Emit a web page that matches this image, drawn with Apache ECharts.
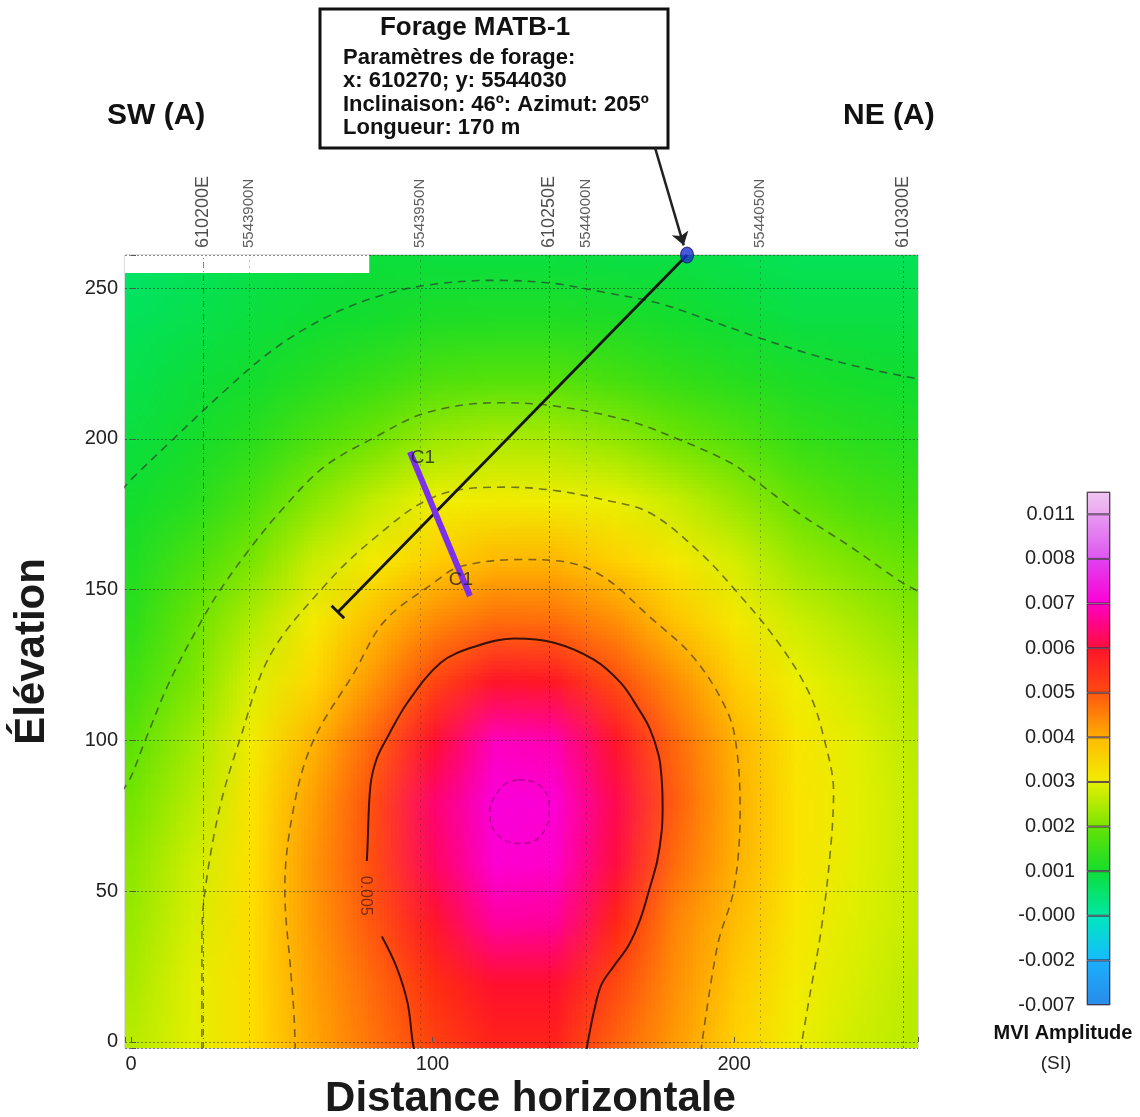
<!DOCTYPE html>
<html>
<head>
<meta charset="utf-8">
<title>Forage MATB-1 - MVI Amplitude</title>
<script src="https://cdn.jsdelivr.net/npm/echarts@6/dist/echarts.min.js"></script>
<style>
  html, body { margin: 0; padding: 0; background: #fff; }
  #chart { width: 1140px; height: 1117px; }
</style>
</head>
<body>
<div id="chart"></div>
<script>
  var FONT = '"Liberation Sans", Arial, Helvetica, sans-serif';

  // noeuds de la grille (m)
  var gridX = [0, 20, 40, 60, 80, 100, 120, 140, 160, 180, 200, 220, 240, 260];
  var gridY = [260, 240, 220, 200, 180, 160, 140, 120, 100, 80, 60, 40, 20, 0];

  // amplitude MVI (SI), une ligne par elevation (du haut vers le bas)
  var mviRows = [
    [0.00040, 0.00055, 0.00070, 0.00080, 0.00088, 0.00085, 0.00085, 0.00085, 0.00080, 0.00080, 0.00070, 0.00060, 0.00060, 0.00060],
    [0.00055, 0.00070, 0.00085, 0.00098, 0.00107, 0.00122, 0.00125, 0.00125, 0.00120, 0.00107, 0.00092, 0.00080, 0.00080, 0.00080],
    [0.00070, 0.00090, 0.00106, 0.00135, 0.00157, 0.00174, 0.00180, 0.00180, 0.00168, 0.00154, 0.00136, 0.00117, 0.00108, 0.00100],
    [0.00085, 0.00108, 0.00140, 0.00174, 0.00200, 0.00232, 0.00243, 0.00240, 0.00225, 0.00200, 0.00180, 0.00155, 0.00140, 0.00130],
    [0.00104, 0.00135, 0.00174, 0.00218, 0.00260, 0.00302, 0.00316, 0.00310, 0.00296, 0.00265, 0.00227, 0.00192, 0.00170, 0.00160],
    [0.00125, 0.00170, 0.00208, 0.00267, 0.00320, 0.00370, 0.00396, 0.00398, 0.00368, 0.00326, 0.00276, 0.00230, 0.00207, 0.00190],
    [0.00145, 0.00195, 0.00246, 0.00320, 0.00390, 0.00440, 0.00472, 0.00470, 0.00437, 0.00382, 0.00324, 0.00269, 0.00240, 0.00215],
    [0.00165, 0.00210, 0.00283, 0.00360, 0.00430, 0.00515, 0.00590, 0.00585, 0.00505, 0.00437, 0.00370, 0.00303, 0.00270, 0.00240],
    [0.00185, 0.00235, 0.00316, 0.00400, 0.00480, 0.00600, 0.00690, 0.00680, 0.00590, 0.00474, 0.00400, 0.00333, 0.00290, 0.00250],
    [0.00205, 0.00250, 0.00340, 0.00420, 0.00505, 0.00640, 0.00715, 0.00705, 0.00620, 0.00485, 0.00405, 0.00342, 0.00292, 0.00260],
    [0.00220, 0.00270, 0.00350, 0.00430, 0.00505, 0.00630, 0.00705, 0.00695, 0.00610, 0.00470, 0.00402, 0.00340, 0.00290, 0.00260],
    [0.00230, 0.00280, 0.00355, 0.00427, 0.00495, 0.00590, 0.00670, 0.00665, 0.00560, 0.00444, 0.00390, 0.00328, 0.00285, 0.00260],
    [0.00240, 0.00290, 0.00355, 0.00420, 0.00475, 0.00545, 0.00600, 0.00600, 0.00510, 0.00435, 0.00376, 0.00317, 0.00280, 0.00250],
    [0.00250, 0.00290, 0.00355, 0.00414, 0.00465, 0.00520, 0.00565, 0.00565, 0.00480, 0.00424, 0.00367, 0.00306, 0.00270, 0.00250]
  ];

  // bornes de la table de couleurs (SI), de bas en haut
  var colorBreaks = [-0.007, -0.002, -0.0002, 0.001, 0.002, 0.003, 0.004, 0.005, 0.006, 0.007, 0.008, 0.011];
  var colorTop = 0.013;
  var cmapStops = [
    [0, '#2a88e8'], [0.5, '#2398f4'], [1, '#18b4ff'], [1.5, '#05e0ff'],
    [2, '#00e8b0'], [2.5, '#00e468'], [3, '#10dd30'], [3.5, '#30de18'],
    [4, '#70e400'], [4.5, '#b8ec00'], [5, '#eef000'], [5.5, '#ffe000'],
    [6, '#ffb400'], [6.5, '#ff8008'], [7, '#ff5010'], [7.5, '#ff2a10'],
    [8, '#ff1030'], [8.5, '#ff0080'], [9, '#ff00d0'], [9.5, '#ec00f0'],
    [10, '#dc50f0'], [11, '#e8a0f0'], [11.5, '#f2ccf2']
  ];

  // contours (distance, elevation)
  var contour001 = [[-3, 183], [0, 186.5], [13, 199], [30, 215], [47, 229.5], [64, 240], [81, 247], [98, 251], [121, 252.6], [140, 251.6], [156.5, 248.7], [175, 245], [190, 240], [207, 234], [224, 228.5], [241, 224], [262, 219.7]];
  var contour002 = [[-3, 83], [0, 88], [4.7, 100], [13, 120], [23, 139], [29.6, 150], [40.5, 165], [50, 176.5], [64, 190.7], [81, 200.6], [97.7, 208.6], [121, 212], [140, 211], [165, 206], [182, 199.7], [199, 192], [206, 187], [222, 175], [239, 164], [255.5, 152.5], [262, 149]];
  var contour003 = [[23.5, -3], [23.5, 10], [23.5, 34], [24.6, 50.6], [29.5, 78], [36, 100], [46, 128], [63, 150], [80, 166.5], [101, 181], [124.6, 184], [139.7, 183], [156, 180], [172, 175.5], [189, 162], [202, 148], [215, 132], [225, 115.5], [230, 100], [233, 83], [232, 64], [229, 38], [224.5, 12], [222, -3]];
  var contour004 = [[54.5, -3], [54, 10], [53, 23], [51, 50.6], [54, 78], [60.5, 100], [74, 122.5], [84, 139.5], [100, 152], [109, 157.6], [129, 160], [142, 159.5], [156, 154.7], [172, 141], [187, 127], [198, 109], [201, 96], [202, 77], [200, 51], [194.5, 32], [189, -3]];
  var contour005Low = [[94, -3], [93.4, 0], [91.7, 13], [88, 25], [83.2, 35]];
  var contour005 = [[78.2, 60], [78.4, 64], [79.4, 85], [81.5, 94], [85, 101], [91.7, 112.6], [102.7, 125.8], [113.6, 131], [127, 133.8], [140, 132.5], [153.5, 126.8], [162.5, 119], [168, 111], [172, 104], [175, 95], [176, 87], [176.3, 78], [176, 70], [174.5, 60], [172, 51], [169, 41], [165, 32], [160, 25], [156, 19], [153.5, 10], [151.5, 0], [151, -3]];
  var contourCore = [[128.5, 87], [134, 86], [138, 82], [138.7, 76], [137, 70], [133, 66.3], [128, 65.8], [123, 67.5], [119.5, 72], [119, 77], [121, 82], [124, 85.5], [128.5, 87]];

  // forage
  var drillCollar = [184.4, 261];
  var drillEnd = [68.7, 142.7];
  var drillEndBar = [[66.5, 144.7], [70.7, 140.5]];
  var zoneC1 = [[92.5, 195.7], [112.4, 147.9]];
  var calloutArrow = [[173.8, 296.5], [183.3, 264.2]];
  var noDataArea = [[-2, 255], [79, 261]];

  // reperes UTM en haut de la coupe
  var eastingLines = [{ name: '610200E', x: 23.9 }, { name: '610250E', x: 138.6 }, { name: '610300E', x: 256.0 }];
  var northingLines = [{ name: '5543900N', x: 39.1 }, { name: '5543950N', x: 95.8 }, { name: '5544000N', x: 150.9 }, { name: '5544050N', x: 208.6 }];

  var xTickLabels = [0, 100, 200];
  var yTickLabels = [0, 50, 100, 150, 200, 250];
  var drillInfo = ['Paramètres de forage:', 'x: 610270; y: 5544030', 'Inclinaison: 46º: Azimut: 205º', 'Longueur: 170 m'];

  function hexRgb(h) {
    return [parseInt(h.substr(1, 2), 16), parseInt(h.substr(3, 2), 16), parseInt(h.substr(5, 2), 16)];
  }
  function levelOf(v) {
    if (v <= colorBreaks[0]) return 0;
    for (var i = 0; i < colorBreaks.length - 1; i++) {
      if (v <= colorBreaks[i + 1]) return i + (v - colorBreaks[i]) / (colorBreaks[i + 1] - colorBreaks[i]);
    }
    return Math.min(11.5, 11 + 0.5 * (v - 0.011) / (colorTop - 0.011));
  }
  function rgbAt(level) {
    for (var i = 0; i < cmapStops.length - 1; i++) {
      var a = cmapStops[i], b = cmapStops[i + 1];
      if (level <= b[0]) {
        var t = Math.max(0, (level - a[0]) / (b[0] - a[0]));
        var ca = hexRgb(a[1]), cb = hexRgb(b[1]);
        return [0, 1, 2].map(function (k) { return Math.round(ca[k] + (cb[k] - ca[k]) * t); });
      }
    }
    return hexRgb(cmapStops[cmapStops.length - 1][1]);
  }
  function cssAt(level) {
    var c = rgbAt(level);
    return 'rgb(' + c[0] + ',' + c[1] + ',' + c[2] + ')';
  }

  // petite image (un pixel par noeud), lissee par le navigateur a l'affichage
  var fieldCanvas = document.createElement('canvas');
  fieldCanvas.width = gridX.length;
  fieldCanvas.height = gridY.length;
  var fctx = fieldCanvas.getContext('2d');
  var img = fctx.createImageData(gridX.length, gridY.length);
  for (var r = 0; r < gridY.length; r++) {
    for (var c = 0; c < gridX.length; c++) {
      var rgb = rgbAt(levelOf(mviRows[r][c]));
      var p = (r * gridX.length + c) * 4;
      img.data[p] = rgb[0]; img.data[p + 1] = rgb[1]; img.data[p + 2] = rgb[2]; img.data[p + 3] = 255;
    }
  }
  fctx.putImageData(img, 0, 0);
  var halfX = (gridX[1] - gridX[0]) / 2;
  var halfY = (gridY[0] - gridY[1]) / 2;

  var dashed = { color: 'rgba(40,40,40,0.6)', width: 1.6, type: [8, 6] };
  function contourSeries(name, data, style) {
    return {
      name: name, type: 'line', data: data, smooth: 0.35, symbol: 'none', silent: true,
      z: 3, lineStyle: style, clip: true
    };
  }

  // barre de couleurs : une tranche par intervalle
  var colorbarSeries = colorBreaks.map(function (b, i) {
    var h = i < colorBreaks.length - 1 ? 1 : 0.5;
    return {
      type: 'bar', xAxisIndex: 1, yAxisIndex: 1, stack: 'cb', data: [h],
      barWidth: '100%', silent: true,
      itemStyle: {
        borderColor: 'rgba(50,20,50,0.75)', borderWidth: 1,
        color: {
          type: 'linear', x: 0, y: 0, x2: 0, y2: 1,
          colorStops: [{ offset: 0, color: cssAt(i + h - 0.08) }, { offset: 1, color: cssAt(i + 0.08) }]
        }
      }
    };
  });

  var refMarkLines = eastingLines.map(function (e, i) {
    return { xAxis: e.x, lineStyle: { color: 'rgba(30,30,30,0.55)', width: 1, type: i === 0 ? [6, 3, 1, 3] : [2, 3] } };
  }).concat(northingLines.map(function (n) {
    return { xAxis: n.x, lineStyle: { color: 'rgba(30,30,30,0.3)', width: 1, type: [2, 4] } };
  }));

  var topLabels = eastingLines.map(function (e) {
    return { value: [e.x, 261], name: e.name, label: { fontSize: 18 } };
  }).concat(northingLines.map(function (n) {
    return { value: [n.x, 261], name: n.name, label: { fontSize: 15, color: '#333' } };
  }));

  var chart = echarts.init(document.getElementById('chart'));
  chart.setOption({
    animation: false,
    backgroundColor: '#fff',
    textStyle: { fontFamily: FONT },
    grid: [
      { left: 125, top: 255, width: 793, height: 793, show: true, borderColor: '#bbb', borderWidth: 1, outerBoundsMode: 'none' },
      { left: 1087, top: 492, width: 23, height: 513, show: true, borderColor: '#777', borderWidth: 1, outerBoundsMode: 'none' }
    ],
    xAxis: [
      {
        type: 'value', min: -2, max: 261, splitNumber: 3, z: 2,
        name: 'Distance horizontale', nameLocation: 'middle', nameGap: 24,
        nameTextStyle: { fontSize: 42, fontWeight: 'bold', color: '#1a1a1a', padding: [0, 0, 0, 18] },
        axisLine: { show: false },
        axisTick: { inside: true, length: 5, lineStyle: { color: '#555' } },
        axisLabel: {
          fontSize: 20, color: '#222', margin: 6,
          formatter: function (v) { return xTickLabels.indexOf(v) >= 0 ? String(v) : ''; }
        },
        splitLine: { show: false }
      },
      { type: 'category', gridIndex: 1, data: [''], show: false }
    ],
    yAxis: [
      {
        type: 'value', min: -2, max: 261, splitNumber: 5, z: 2,
        name: 'Élévation', nameLocation: 'middle', nameRotate: 90, nameGap: 72,
        nameTextStyle: { fontSize: 42, fontWeight: 'bold', color: '#1a1a1a' },
        axisLine: { show: false },
        axisTick: { inside: true, length: 5, lineStyle: { color: '#555' } },
        axisLabel: {
          fontSize: 20, color: '#222', margin: 7,
          formatter: function (v) { return yTickLabels.indexOf(v) >= 0 ? String(v) : ''; }
        },
        splitLine: { show: true, lineStyle: { color: 'rgba(30,30,30,0.5)', width: 1, type: [2, 2] } }
      },
      {
        type: 'value', gridIndex: 1, min: 0, max: 11.5, interval: 1,
        axisLine: { show: false }, axisTick: { show: false }, splitLine: { show: false },
        axisLabel: {
          fontSize: 20, color: '#222', margin: 12,
          formatter: function (v) { return (v % 1 === 0 && v < colorBreaks.length) ? colorBreaks[v].toFixed(3) : ''; }
        }
      }
    ],
    graphic: [
      { type: 'text', x: 107, y: 116, style: { text: 'SW (A)', font: 'bold 30px ' + FONT, fill: '#111', align: 'left', verticalAlign: 'middle' } },
      { type: 'text', x: 843, y: 116, style: { text: 'NE (A)', font: 'bold 30px ' + FONT, fill: '#111', align: 'left', verticalAlign: 'middle' } },
      {
        type: 'group', x: 320, y: 9,
        children: [
          { type: 'rect', shape: { x: 0, y: 0, width: 348, height: 139 }, style: { fill: '#fff', stroke: '#111', lineWidth: 3 } },
          { type: 'text', x: 155, y: 19, style: { text: 'Forage MATB-1', font: 'bold 26px ' + FONT, fill: '#111', align: 'center', verticalAlign: 'middle' } }
        ].concat(drillInfo.map(function (t, i) {
          return { type: 'text', x: 23, y: 48.5 + i * 23.6, style: { text: t, font: 'bold 22px ' + FONT, fill: '#111', align: 'left', verticalAlign: 'middle' } };
        }))
      },
      { type: 'text', x: 1063, y: 1033, style: { text: 'MVI Amplitude', font: 'bold 20px ' + FONT, fill: '#111', align: 'center', verticalAlign: 'middle' } },
      { type: 'text', x: 1056, y: 1064, style: { text: '(SI)', font: '19px ' + FONT, fill: '#222', align: 'center', verticalAlign: 'middle' } }
    ],
    series: [
      {
        name: 'MVI', type: 'custom', z: 1, clip: true, silent: true,
        data: [[gridX[0] - halfX, gridY[gridY.length - 1] - halfY, gridX[gridX.length - 1] + halfX, gridY[0] + halfY]],
        encode: { x: [0, 2], y: [1, 3] },
        renderItem: function (params, api) {
          var tl = api.coord([api.value(0), api.value(3)]);
          var br = api.coord([api.value(2), api.value(1)]);
          return {
            type: 'image',
            style: { image: fieldCanvas, x: tl[0], y: tl[1], width: br[0] - tl[0], height: br[1] - tl[1] }
          };
        }
      },
      contourSeries('0.001', contour001, dashed),
      contourSeries('0.002', contour002, dashed),
      contourSeries('0.003', contour003, dashed),
      contourSeries('0.004', contour004, dashed),
      contourSeries('0.005', contour005, { color: '#3a1208', width: 2 }),
      contourSeries('0.005b', contour005Low, { color: '#3a1208', width: 2 }),
      contourSeries('core', contourCore, { color: 'rgba(110,0,90,0.5)', width: 1.5, type: [6, 4] }),
      {
        name: 'label contour', type: 'scatter', symbolSize: 0, z: 4, silent: true,
        data: [{ value: [77.8, 48.5], name: '0.005' }],
        label: { show: true, formatter: '{b}', position: 'inside', rotate: -90, fontSize: 16, color: '#5a1a10' }
      },
      {
        name: 'forage', type: 'line', data: [drillCollar, drillEnd], symbol: 'none', z: 5, clip: false, silent: true,
        lineStyle: { color: '#151515', width: 2.8 },
        markLine: {
          silent: true, symbol: 'none', label: { show: false },
          data: refMarkLines
        },
        markArea: {
          silent: true, z: 1.5, itemStyle: { color: '#fff', opacity: 1 },
          data: [[{ coord: noDataArea[0] }, { coord: noDataArea[1] }]]
        }
      },
      {
        name: 'fin forage', type: 'line', data: drillEndBar, symbol: 'none', z: 6, silent: true,
        lineStyle: { color: '#151515', width: 2.8 }
      },
      {
        name: 'fleche', type: 'lines', coordinateSystem: 'cartesian2d', z: 6, clip: false, silent: true,
        symbol: ['none', 'arrow'], symbolSize: 13,
        lineStyle: { color: '#222', width: 2.5, opacity: 1 },
        data: [{ coords: calloutArrow }]
      },
      {
        name: 'C1', type: 'line', data: zoneC1, symbol: 'none', z: 6, silent: true,
        lineStyle: { color: '#7b30ee', width: 6 }
      },
      {
        name: 'C1 labels', type: 'scatter', symbolSize: 0, z: 7, silent: true,
        data: [
          { value: zoneC1[0], name: 'C1', label: { offset: [13, 6] } },
          { value: zoneC1[1], name: 'C1', label: { offset: [-9, -16] } }
        ],
        label: { show: true, formatter: '{b}', position: 'inside', fontSize: 19, color: '#222' }
      },
      {
        name: 'collet', type: 'scatter', data: [drillCollar], symbolSize: [13, 16], z: 8, clip: false, silent: true,
        itemStyle: { color: '#1a2ed0', borderColor: '#0a1060', borderWidth: 1 }
      },
      {
        name: 'reperes', type: 'scatter', data: topLabels, symbolSize: 0, z: 8, clip: false, silent: true,
        label: { show: true, formatter: '{b}', position: 'top', distance: 7, rotate: 90, align: 'left', verticalAlign: 'middle', color: '#222' }
      }
    ].concat(colorbarSeries)
  });
</script>
</body>
</html>
